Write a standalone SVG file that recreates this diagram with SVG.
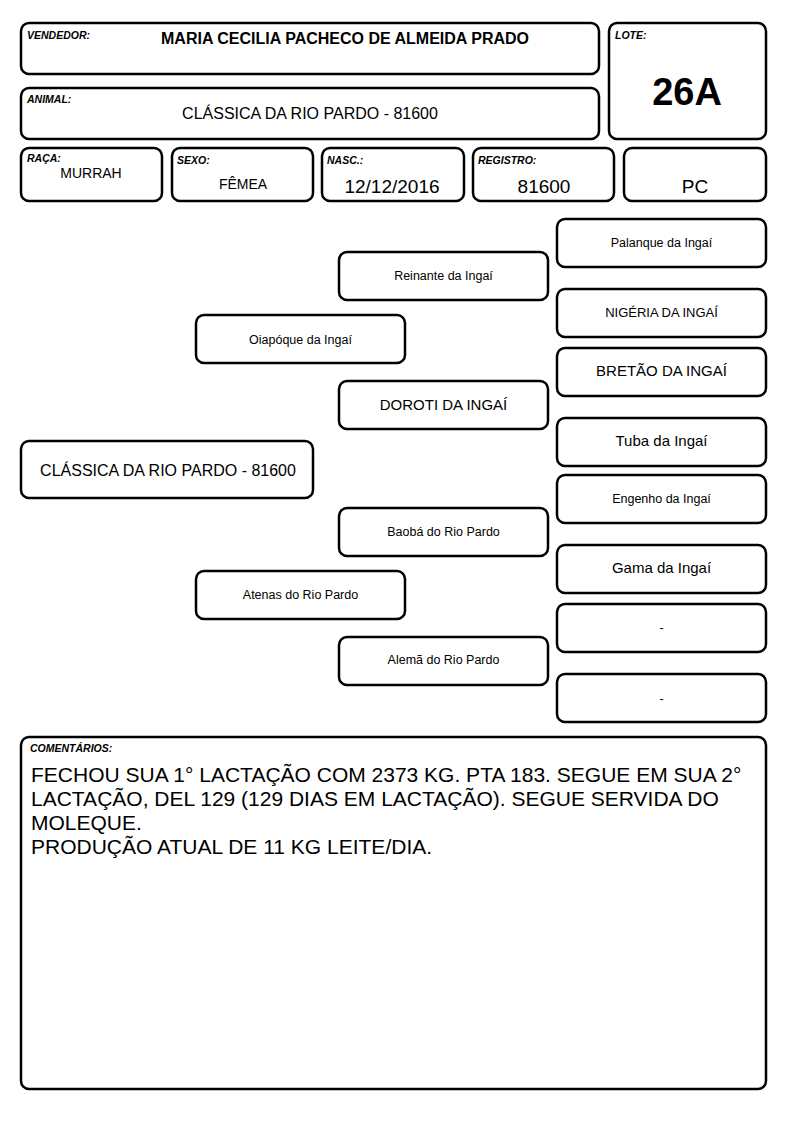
<svg xmlns="http://www.w3.org/2000/svg" width="794" height="1123" viewBox="0 0 794 1123">
<style>
.b{fill:#fff;stroke:#000;stroke-width:2.5}
text{font-family:"Liberation Sans",Arial,sans-serif;fill:#000}
.l{font-size:10.5px;font-weight:bold;font-style:italic}
.c{text-anchor:middle}
.s{font-size:12.5px}
.m{font-size:15px}
.t{font-size:21px}
</style>
<rect width="794" height="1123" fill="#fff"/>
<g id="vendedor"><rect class="b" x="21" y="23" width="578" height="51" rx="8"/><text class="l" x="27" y="39">VENDEDOR:</text><text class="c" x="345" y="44" font-size="16" font-weight="bold">MARIA CECILIA PACHECO DE ALMEIDA PRADO</text></g>
<g id="animal"><rect class="b" x="21" y="88" width="578" height="51" rx="8"/><text class="l" x="27" y="103">ANIMAL:</text><text class="c" x="310" y="119" font-size="16">CLÁSSICA DA RIO PARDO - 81600</text></g>
<g id="lote"><rect class="b" x="609" y="23" width="157" height="116" rx="8"/><text class="l" x="615" y="39">LOTE:</text><text class="c" x="687" y="105" font-size="38" font-weight="bold">26A</text></g>
<g id="raca"><rect class="b" x="21" y="148" width="141" height="53" rx="8"/><text class="l" x="27" y="162">RAÇA:</text><text class="c" x="91" y="178" font-size="14">MURRAH</text></g>
<g id="sexo"><rect class="b" x="172" y="148" width="141" height="53" rx="8"/><text class="l" x="177" y="164">SEXO:</text><text class="c" x="243" y="189" font-size="14">FÊMEA</text></g>
<g id="nasc"><rect class="b" x="322" y="148" width="142" height="53" rx="8"/><text class="l" x="327" y="164">NASC.:</text><text class="c" x="392" y="193" font-size="19">12/12/2016</text></g>
<g id="registro"><rect class="b" x="473" y="148" width="141" height="53" rx="8"/><text class="l" x="478" y="164">REGISTRO:</text><text class="c" x="544" y="193" font-size="19">81600</text></g>
<g id="pc"><rect class="b" x="624" y="148" width="142" height="53" rx="8"/><text class="c" x="695" y="193" font-size="19">PC</text></g>
<g id="palanque"><rect class="b" x="557" y="219" width="209" height="48" rx="8"/><text class="c s" x="661.5" y="247">Palanque da Ingaí</text></g>
<g id="reinante"><rect class="b" x="339" y="252" width="209" height="48" rx="8"/><text class="c s" x="443.5" y="280">Reinante da Ingaí</text></g>
<g id="nigeria"><rect class="b" x="557" y="289" width="209" height="48" rx="8"/><text class="c" x="661.5" y="317" font-size="13">NIGÉRIA DA INGAÍ</text></g>
<g id="oiapoque"><rect class="b" x="196" y="315" width="209" height="48" rx="8"/><text class="c s" x="300.5" y="344">Oiapóque da Ingaí</text></g>
<g id="bretao"><rect class="b" x="557" y="348" width="209" height="48" rx="8"/><text class="c m" x="661.5" y="376">BRETÃO DA INGAÍ</text></g>
<g id="doroti"><rect class="b" x="339" y="381" width="209" height="48" rx="8"/><text class="c m" x="443.5" y="410">DOROTI DA INGAÍ</text></g>
<g id="tuba"><rect class="b" x="557" y="418" width="209" height="48" rx="8"/><text class="c m" x="661.5" y="446">Tuba da Ingaí</text></g>
<g id="classica"><rect class="b" x="21" y="441" width="292" height="57" rx="8"/><text class="c" x="168" y="476" font-size="16">CLÁSSICA DA RIO PARDO - 81600</text></g>
<g id="engenho"><rect class="b" x="557" y="475" width="209" height="48" rx="8"/><text class="c s" x="661.5" y="503">Engenho da Ingaí</text></g>
<g id="baoba"><rect class="b" x="339" y="508" width="209" height="48" rx="8"/><text class="c s" x="443.5" y="536">Baobá do Rio Pardo</text></g>
<g id="gama"><rect class="b" x="557" y="545" width="209" height="48" rx="8"/><text class="c m" x="661.5" y="573">Gama da Ingaí</text></g>
<g id="atenas"><rect class="b" x="196" y="571" width="209" height="48" rx="8"/><text class="c s" x="300.5" y="599">Atenas do Rio Pardo</text></g>
<g id="vazio1"><rect class="b" x="557" y="604" width="209" height="48" rx="8"/><text class="c s" x="661.5" y="632">-</text></g>
<g id="alema"><rect class="b" x="339" y="637" width="209" height="48" rx="8"/><text class="c s" x="443.5" y="664">Alemã do Rio Pardo</text></g>
<g id="vazio2"><rect class="b" x="557" y="674" width="209" height="48" rx="8"/><text class="c s" x="661.5" y="703">-</text></g>
<g id="connectors"></g>
<g id="comentarios"><rect class="b" x="21" y="737" width="745" height="352" rx="8"/><text class="l" x="30" y="752">COMENTÁRIOS:</text>
<text class="t" x="31" y="782">FECHOU SUA 1° LACTAÇÃO COM 2373 KG. PTA 183. SEGUE EM SUA 2°</text>
<text class="t" x="31" y="806">LACTAÇÃO, DEL 129 (129 DIAS EM LACTAÇÃO). SEGUE SERVIDA DO</text>
<text class="t" x="31" y="830">MOLEQUE.</text>
<text class="t" x="31" y="854">PRODUÇÃO ATUAL DE 11 KG LEITE/DIA.</text></g>
</svg>
